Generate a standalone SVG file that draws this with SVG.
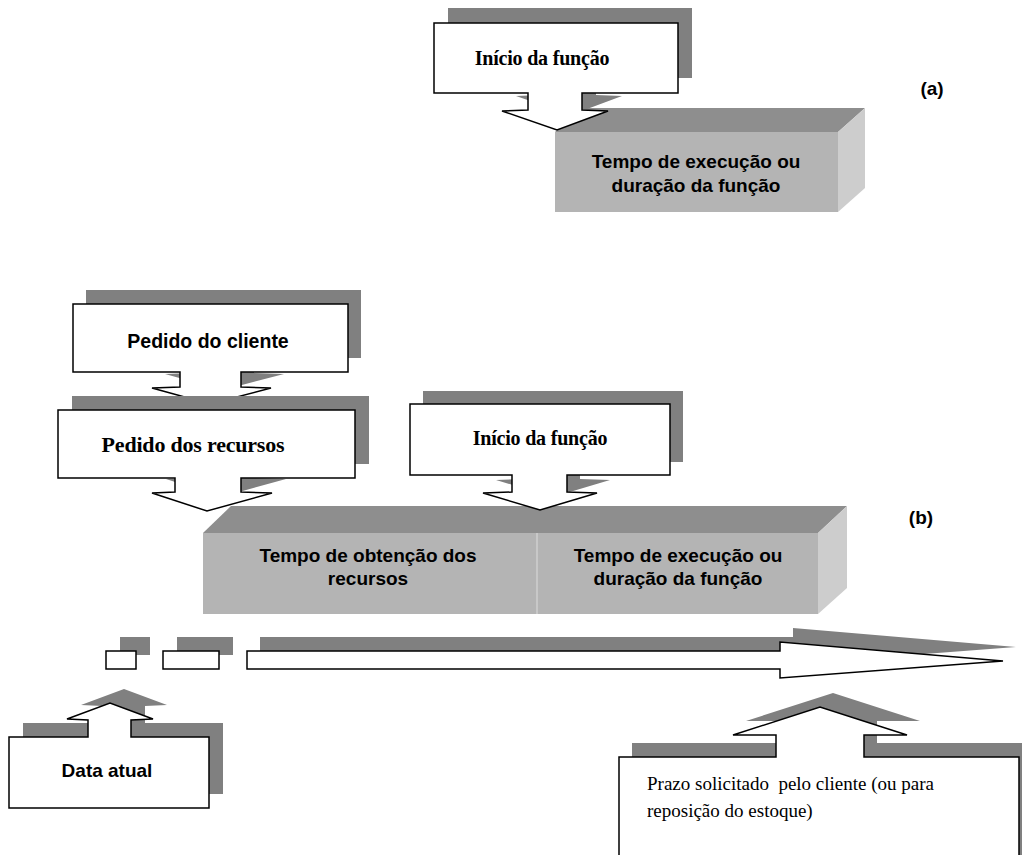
<svg xmlns="http://www.w3.org/2000/svg" xmlns:xlink="http://www.w3.org/1999/xlink" width="1022" height="855" viewBox="0 0 1022 855">
<style>
.bg{fill:#ffffff}
.sh{fill:#808080;stroke:none}
.co{fill:#ffffff;stroke:#000000;stroke-width:1.5;stroke-linejoin:miter}
.top{fill:#8e8e8e}
.front{fill:#b4b4b4}
.side{fill:#cdcdcd}
.div{stroke:#c8c8c8;stroke-width:2}
.tb{font-family:"Liberation Serif",serif;font-weight:bold;font-size:20px;fill:#000;letter-spacing:-0.2px}
.tb2{font-family:"Liberation Serif",serif;font-weight:bold;font-size:22px;fill:#000;letter-spacing:-0.2px}
.ts{font-family:"Liberation Sans",Arial,sans-serif;font-weight:bold;font-size:19px;fill:#000}
.tn{font-family:"Liberation Serif",serif;font-size:19px;fill:#000;white-space:pre}
.lbl{font-family:"Liberation Sans",Arial,sans-serif;font-weight:bold;font-size:19px;fill:#000}
</style>
<defs>
<path id="pA1" d="M434,23 H678 V93 H582 V110 L608,111 L557,130 L502,111 L528,110 V93 H434 Z"/>
<path id="pB1" d="M73,304 H348 V372 H241 V387 L271,388 L210,404 L152,388 L180,387 V372 H73 Z"/>
<path id="pB2" d="M58,410 H355 V478 H241 V492 L272,493 L207,511 L152,493 L175,492 V478 H58 Z"/>
<path id="pB3" d="M410,404 H670 V475 H567 V492 L597,493 L540,510 L483,493 L512,492 V475 H410 Z"/>
<path id="pD" d="M9,737 H88 V720 L67,719 L110,703 L153,719 L131,720 V737 H209 V808 H9 Z"/>
<path id="pP" d="M619,757 H776 V735 L733,735 L820,707 L907,735 L864,735 V757 H1019 V870 H619 Z"/>
<path id="pS1" d="M106,651 H136 V669 H106 Z"/>
<path id="pS2" d="M163,651 H219 V669 H163 Z"/>
<path id="pArr" d="M247,651 H780 V642 L1003,661 L780,678 V669 H247 Z"/>
</defs>
<rect class="bg" x="0" y="0" width="1022" height="855"/>

<g id="box-a">
<polygon class="top" points="555,132 582,108 865,108 838,132"/>
<polygon class="side" points="838,132 865,108 865,188 838,212"/>
<rect class="front" x="555" y="132" width="283" height="80"/>
<text class="ts" x="696" y="168" text-anchor="middle">Tempo de execução ou</text>
<text class="ts" x="696" y="192" text-anchor="middle">duração da função</text>
</g>

<g id="box-b">
<polygon class="top" points="203,533 231,506 847,506 818,533"/>
<polygon class="side" points="818,533 847,506 847,588 818,614"/>
<rect class="front" x="203" y="533" width="615" height="81"/>
<line class="div" x1="537" y1="533" x2="537" y2="614"/>
<text class="ts" x="368" y="562" text-anchor="middle">Tempo de obtenção dos</text>
<text class="ts" x="368" y="585" text-anchor="middle">recursos</text>
<text class="ts" x="678" y="562" text-anchor="middle">Tempo de execução ou</text>
<text class="ts" x="678" y="585" text-anchor="middle">duração da função</text>
</g>

<g id="connectors">
<g id="timeline">
<use xlink:href="#pS1" class="sh" transform="translate(14,-14)"/>
<use xlink:href="#pS2" class="sh" transform="translate(14,-14)"/>
<use xlink:href="#pArr" class="sh" transform="translate(13,-14)"/>
<use xlink:href="#pS1" class="co"/>
<use xlink:href="#pS2" class="co"/>
<use xlink:href="#pArr" class="co"/>
</g>
</g>

<g id="inicio-a">
<use xlink:href="#pA1" class="sh" transform="translate(14,-15)"/>
<use xlink:href="#pA1" class="co"/>
<text class="tb" x="542" y="65" text-anchor="middle">Início da função</text>
</g>

<g id="pedido-cliente">
<use xlink:href="#pB1" class="sh" transform="translate(13,-14)"/>
<use xlink:href="#pB1" class="co"/>
<text class="ts" x="208" y="348" text-anchor="middle" style="font-size:19.5px">Pedido do cliente</text>
</g>

<g id="pedido-recursos">
<use xlink:href="#pB2" class="sh" transform="translate(14,-14)"/>
<use xlink:href="#pB2" class="co"/>
<text class="tb2" x="193" y="452" text-anchor="middle">Pedido dos recursos</text>
</g>

<g id="inicio-b">
<use xlink:href="#pB3" class="sh" transform="translate(13,-13)"/>
<use xlink:href="#pB3" class="co"/>
<text class="tb" x="540" y="445" text-anchor="middle">Início da função</text>
</g>

<g id="data-atual">
<use xlink:href="#pD" class="sh" transform="translate(14,-14)"/>
<use xlink:href="#pD" class="co"/>
<text class="ts" x="107" y="777" text-anchor="middle">Data atual</text>
</g>

<g id="prazo">
<use xlink:href="#pP" class="sh" transform="translate(13,-14)"/>
<use xlink:href="#pP" class="co"/>
<text class="tn" x="647" y="790">Prazo solicitado  pelo cliente (ou para</text>
<text class="tn" x="647" y="817">reposição do estoque)</text>
</g>

<g id="labels">
<text class="lbl" x="932" y="95" text-anchor="middle">(a)</text>
<text class="lbl" x="921" y="524" text-anchor="middle">(b)</text>
</g>
</svg>
